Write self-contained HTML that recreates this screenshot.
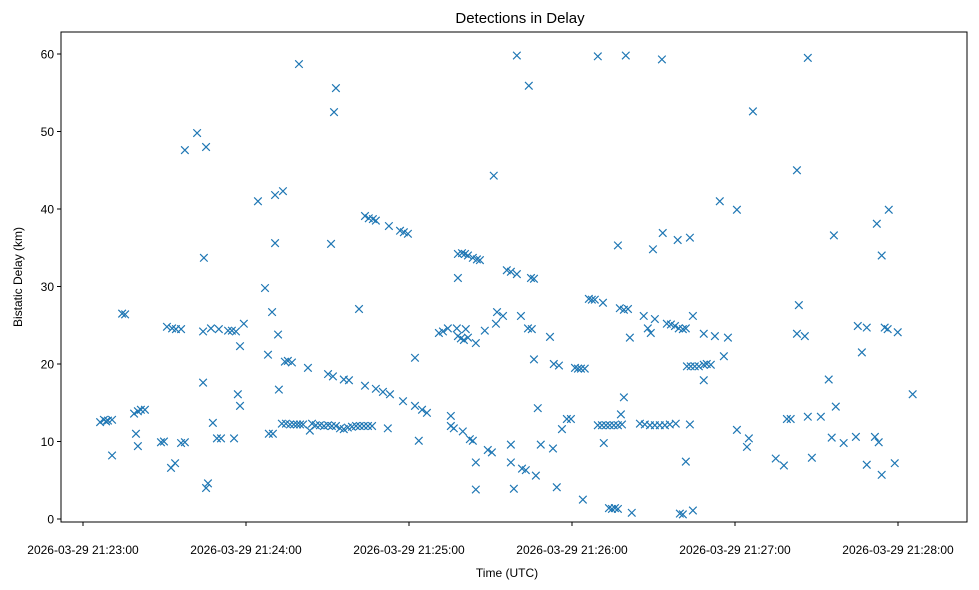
<!DOCTYPE html>
<html><head><meta charset="utf-8"><style>
body{margin:0;background:#fff;}
svg{display:block;font-family:"Liberation Sans","DejaVu Sans",sans-serif;}
</style></head><body>
<svg id="chart" width="979" height="590" viewBox="0 0 979 590">
<rect x="0" y="0" width="979" height="590" fill="#fff"/>
<text x="520" y="23" text-anchor="middle" font-size="15">Detections in Delay</text>
<text x="507" y="577" text-anchor="middle" font-size="12">Time (UTC)</text>
<text transform="translate(22,277) rotate(-90)" text-anchor="middle" font-size="12">Bistatic Delay (km)</text>
<g id="marks"></g>
<g id="yticks"></g>
<g id="xticks"></g>
<rect x="61" y="32" width="906" height="490" fill="none" stroke="#000" stroke-width="1"/>
</svg>
<script>
const times=[6.3,7.7,9.2,10.7,8.5,10.7,14.4,15.5,18.8,20.2,21.3,22.8,19.5,20.2,28.7,29.8,30.9,32.8,34.2,36.1,32.4,33.9,36.1,37.5,37.5,42.0,45.3,44.2,47.1,50.0,44.5,44.2,45.3,46.0,47.8,49.3,50.8,53.4,54.8,56.3,59.2,55.6,57.0,57.8,57.8,64.4,67.0,68.1,68.4,69.9,69.6,70.7,70.7,73.6,71.8,72.1,74.3,75.4,76.9,73.2,74.7,76.2,77.6,78.8,79.9,81.0,79.5,82.8,83.5,84.3,85.7,87.2,88.7,90.2,91.6,93.1,94.6,96.0,97.5,99.0,100.5,101.9,103.4,104.9,106.4,91.3,92.4,93.1,90.2,92.0,96.0,97.9,101.6,103.8,107.8,110.4,113.0,117.8,122.2,124.8,126.6,103.8,105.2,106.7,107.8,112.2,112.6,116.7,118.1,119.6,122.2,123.6,131.0,132.5,134.3,135.4,136.5,135.4,137.6,138.0,139.1,140.2,140.9,141.7,139.8,138.0,138.0,139.5,140.6,141.7,143.5,145.0,146.1,142.4,143.5,144.6,144.6,144.6,147.9,149.0,150.5,151.2,152.0,152.4,154.6,156.0,157.5,159.7,157.5,157.5,158.6,161.2,161.6,163.0,163.8,165.2,164.1,159.7,164.9,166.0,166.0,166.7,167.4,168.5,171.9,173.0,173.3,175.2,174.4,176.3,178.1,179.6,181.1,182.2,183.3,184.7,184.0,186.2,187.3,188.4,189.5,189.5,191.0,192.5,193.9,195.4,196.9,191.4,191.7,193.6,194.7,195.8,196.9,198.4,196.9,198.0,199.1,197.6,199.1,200.6,199.8,201.3,202.0,205.0,206.8,208.7,210.5,212.3,214.2,216.0,218.2,206.4,207.9,209.0,210.5,209.8,213.1,213.4,214.9,216.4,217.9,219.3,220.8,221.9,218.9,223.4,224.5,219.7,220.8,221.9,223.4,224.5,222.3,223.7,225.2,226.7,228.5,229.6,231.1,228.5,228.5,232.6,234.4,235.9,237.4,240.7,240.7,244.4,245.1,246.6,255.0,258.0,259.1,260.5,262.8,263.5,262.8,265.7,266.8,266.8,268.3,271.6,274.5,275.6,276.4,277.1,280.0,284.5,285.2,286.7,288.5,288.5,291.5,292.2,292.9,294.0,294.0,295.1,296.6,296.2,298.8,299.9,305.4];
const delays=[12.5,12.8,12.7,12.8,12.6,8.2,26.5,26.4,13.6,13.9,14.1,14.1,11.0,9.4,9.9,10.0,24.8,24.6,24.5,24.5,6.6,7.2,9.8,9.9,47.6,49.8,48.0,24.2,24.6,24.5,33.7,17.6,4.0,4.6,12.4,10.4,10.4,24.3,24.3,24.2,25.2,10.4,16.1,14.6,22.3,41.0,29.8,21.2,11.0,11.0,26.7,41.8,35.6,42.3,23.8,16.7,20.3,20.4,20.2,12.3,12.3,12.2,12.2,12.2,12.2,12.2,58.7,19.5,11.4,12.3,12.1,12.1,12.0,12.1,12.0,12.0,11.7,11.6,11.8,11.9,12.0,12.0,12.0,12.0,12.0,35.5,52.5,55.6,18.7,18.4,18.0,17.9,27.1,17.2,16.8,16.4,16.1,15.2,14.6,14.1,13.7,39.1,38.8,38.7,38.5,11.7,37.8,37.2,37.0,36.8,20.8,10.1,24.0,24.2,24.6,12.0,11.7,13.3,24.6,23.6,23.3,23.1,24.5,23.4,11.3,31.1,34.2,34.3,34.2,34.0,33.7,33.5,33.4,10.3,10.1,22.7,7.3,3.8,24.3,8.9,8.6,44.3,25.2,26.7,26.2,32.1,31.9,31.6,9.6,7.3,3.9,26.2,6.5,6.3,24.6,24.5,55.9,59.8,31.1,31.0,20.6,5.6,14.3,9.6,23.5,9.1,20.0,19.8,4.1,11.6,12.9,12.9,19.5,19.4,19.4,19.4,2.5,28.4,28.3,28.3,59.7,12.1,12.1,12.1,12.1,12.1,12.1,27.9,9.8,1.4,1.3,1.4,1.3,12.2,35.3,13.5,15.7,27.2,27.0,27.1,59.8,23.4,0.8,12.3,12.2,12.1,12.1,12.1,12.1,12.2,12.3,26.2,24.6,24.0,25.8,34.8,59.3,36.9,25.2,25.1,24.9,24.6,24.5,24.6,36.0,36.3,26.2,0.7,0.6,7.4,12.2,1.1,19.7,19.7,19.7,19.7,19.9,20.0,19.9,17.9,23.9,23.6,41.0,21.0,23.4,39.9,11.5,9.3,10.4,52.6,7.8,6.9,12.9,12.9,45.0,27.6,23.9,23.6,59.5,13.2,7.9,13.2,18.0,10.5,36.6,14.5,9.8,10.6,24.9,21.5,24.7,7.0,10.6,38.1,9.9,5.7,34.0,24.7,39.9,24.5,7.2,24.1,16.1];
const yTicks=[0,10,20,30,40,50,60];
const xTickSecs=[0,60,120,180,240,300];
const xTickLabels=["2026-03-29 21:23:00","2026-03-29 21:24:00","2026-03-29 21:25:00","2026-03-29 21:26:00","2026-03-29 21:27:00","2026-03-29 21:28:00"];

const NS="http://www.w3.org/2000/svg";
function xScale(t){return 83+t*(163/60);}
function yScale(v){return 519-v*7.75;}

const marks=document.getElementById('marks');
for(let i=0;i<times.length;i++){
  const cx=xScale(times[i]),cy=yScale(delays[i]),r=3.8;
  const p=document.createElementNS(NS,'path');
  p.setAttribute('d',`M${cx-r},${cy-r}L${cx+r},${cy+r}M${cx-r},${cy+r}L${cx+r},${cy-r}`);
  p.setAttribute('stroke','#1f77b4');
  p.setAttribute('stroke-width','1.2');
  p.setAttribute('fill','none');
  
  
  marks.appendChild(p);
}
const yg=document.getElementById('yticks');
yTicks.forEach(v=>{
  const y=yScale(v);
  const l=document.createElementNS(NS,'line');
  l.setAttribute('x1',57);l.setAttribute('x2',61);l.setAttribute('y1',y);l.setAttribute('y2',y);
  l.setAttribute('stroke','#000');
  
  
  yg.appendChild(l);
  const t=document.createElementNS(NS,'text');
  t.setAttribute('x',54);t.setAttribute('y',y+4.5);t.setAttribute('text-anchor','end');t.setAttribute('font-size','12');
  t.textContent=v;
  
  
  yg.appendChild(t);
});
const xg=document.getElementById('xticks');
xTickSecs.forEach((s,i)=>{
  const x=xScale(s);
  const l=document.createElementNS(NS,'line');
  l.setAttribute('x1',x);l.setAttribute('x2',x);l.setAttribute('y1',522);l.setAttribute('y2',526);
  l.setAttribute('stroke','#000');
  
  
  xg.appendChild(l);
  const t=document.createElementNS(NS,'text');
  t.setAttribute('x',x);t.setAttribute('y',554);t.setAttribute('text-anchor','middle');t.setAttribute('font-size','12');
  t.textContent=xTickLabels[i];
  
  
  xg.appendChild(t);
});
</script>
</body></html>
